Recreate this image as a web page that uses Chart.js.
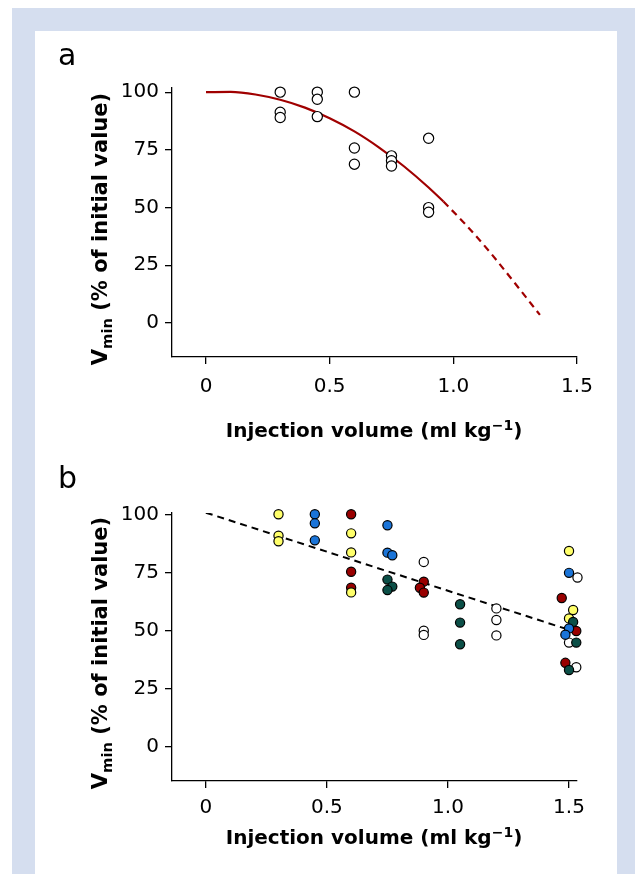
<!DOCTYPE html>
<html>
<head>
<meta charset="utf-8">
<script src="https://cdn.jsdelivr.net/npm/chart.js@4.4.1/dist/chart.umd.min.js"></script>
<style>
  html, body { margin: 0; padding: 0; background: #fff; }
  body { width: 635px; height: 874px; position: relative; overflow: hidden; font-family: 'DejaVu Sans', sans-serif; color: #000; }
  .frame { position: absolute; left: 12px; top: 8px; width: 623px; height: 866px; background: #d5deef; }
  .sheet { position: absolute; left: 35px; top: 31px; width: 582px; height: 843px; background: #fff; }
  canvas { position: absolute; left: 35px; }
  #chartA { top: 31px; }
  #chartB { top: 431px; }
  .panel-label { position: absolute; font-size: 30px; line-height: 30px; }
  .x-title { position: absolute; font-size: 20px; font-weight: bold; line-height: 20px; white-space: nowrap; transform: translateX(-50%); }
  .y-title { position: absolute; font-size: 21px; font-weight: bold; line-height: 21px; white-space: nowrap; transform: translate(-50%, -50%) rotate(-90deg); }
  sub { font-size: 0.7em; vertical-align: 0; position: relative; top: 0.35em; }
  sup { font-size: 0.7em; vertical-align: 0; position: relative; top: -0.5em; }
</style>
</head>
<body>
<div class="frame"></div>
<div class="sheet"></div>
<canvas id="chartA" width="582" height="400"></canvas>
<canvas id="chartB" width="582" height="443"></canvas>

<div class="panel-label" style="left:58px; top:40px;">a</div>
<div class="panel-label" style="left:58px; top:463px;">b</div>
<div class="x-title" style="left:374px; top:420px;">Injection volume (ml kg<sup>−1</sup>)</div>
<div class="x-title" style="left:374px; top:827px;">Injection volume (ml kg<sup>−1</sup>)</div>
<div class="y-title" style="left:101px; top:229px;">V<sub>min</sub> (% of initial value)</div>
<div class="y-title" style="left:101px; top:653px;">V<sub>min</sub> (% of initial value)</div>

<script>
// shared axis ticks
const xTicks = [0, 0.5, 1.0, 1.5];
const xTickLabels = ['0', '0.5', '1.0', '1.5'];
const yTicks = [0, 25, 50, 75, 100];
const yTickLabels = ['0', '25', '50', '75', '100'];

// panel a: individual measurements (open circles)
const doseA = [0.3, 0.3, 0.3, 0.45, 0.45, 0.45, 0.6, 0.6, 0.6, 0.75, 0.75, 0.75, 0.9, 0.9, 0.9];
const vminA = [100, 91.3, 89.0, 100, 96.9, 89.4, 100, 75.8, 68.8, 72.4, 70.3, 68.0, 80, 50, 48];

// panel a: fitted curve, solid over the data range, dashed beyond it
const fitSolidX = [0, 0.1, 0.2, 0.3, 0.4, 0.5, 0.6, 0.7, 0.8, 0.9, 0.96];
const fitSolidY = [100, 100.1, 99.0, 96.7, 93.3, 88.7, 83.0, 76.0, 67.9, 58.7, 52.6];
const fitDashX = [0.96, 1.05, 1.15, 1.25, 1.35];
const fitDashY = [52.6, 42.6, 30.4, 17.1, 3.5];

// panel b: one colour per animal
const blueX = [0.45, 0.45, 0.45, 0.75, 0.75, 0.77, 1.5, 1.5, 1.485];
const blueY = [100, 96.1, 88.8, 95.3, 83.5, 82.4, 74.8, 50.9, 48.2];
const tealX = [0.75, 0.77, 0.75, 1.05, 1.05, 1.05, 1.517, 1.53, 1.5];
const tealY = [71.9, 68.9, 67.4, 61.3, 53.4, 44.1, 53.7, 44.8, 33.0];
const yellowX = [0.3, 0.3, 0.3, 0.6, 0.6, 0.6, 1.5, 1.517, 1.5];
const yellowY = [100, 90.8, 88.4, 91.8, 83.6, 66.4, 84.2, 58.8, 55.2];
const redX = [0.6, 0.6, 0.6, 0.9, 0.884, 0.9, 1.47, 1.53, 1.485];
const redY = [100, 75.3, 68.4, 71.0, 68.4, 66.3, 64.0, 49.8, 36.1];
const whiteX = [0.9, 0.9, 0.9, 1.2, 1.2, 1.2, 1.535, 1.5, 1.53];
const whiteY = [79.5, 49.9, 48.1, 59.5, 54.5, 47.9, 72.8, 44.8, 34.2];

// panel b: regression line
const regX = [0, 1.5];
const regY = [100.7, 50.3];

const pts = (xs, ys) => xs.map((x, i) => ({ x: x, y: ys[i] }));
const tickFont = { family: 'DejaVu Sans', size: 20 };

function axes(o) {
    return {
        x: {
            type: 'linear',
            min: o.xMin,
            max: o.xMax,
            afterBuildTicks: s => { s.ticks = xTicks.map(v => ({ value: v })); },
            afterFit: s => { s.height = o.xHeight; },
            ticks: {
                callback: (v, i) => xTickLabels[i],
                color: '#000',
                font: tickFont,
                padding: o.xPad,
                maxRotation: 0,
                autoSkip: false
            },
            grid: { drawOnChartArea: false, tickLength: 7, color: '#000', lineWidth: 1.3 },
            border: { color: '#000', width: 1.3 }
        },
        y: {
            type: 'linear',
            min: o.yMin,
            max: o.yMax,
            afterBuildTicks: s => { s.ticks = yTicks.map(v => ({ value: v })); },
            afterFit: s => { s.width = 137; },
            ticks: {
                callback: (v, i) => yTickLabels[i],
                color: '#000',
                font: tickFont,
                padding: 6,
                autoSkip: false
            },
            grid: { drawOnChartArea: false, tickLength: 7, color: '#000', lineWidth: 1.3 },
            border: { color: '#000', width: 1.3 }
        }
    };
}

function dots(xs, ys, fill, r) {
    return {
        data: pts(xs, ys),
        showLine: false,
        pointRadius: r,
        pointBackgroundColor: fill,
        pointBorderColor: '#000',
        pointBorderWidth: 1.2,
        clip: false
    };
}

function line(xs, ys, color, dash, width) {
    return {
        data: pts(xs, ys),
        showLine: true,
        pointRadius: 0,
        borderColor: color,
        borderWidth: width,
        borderDash: dash,
        cubicInterpolationMode: 'monotone',
        fill: false
    };
}

const baseOptions = {
    responsive: false,
    animation: false,
    events: [],
    plugins: { legend: { display: false }, tooltip: { enabled: false } }
};

const chartA = new Chart(document.getElementById('chartA').getContext('2d'), {
    type: 'scatter',
    data: {
        datasets: [
            dots(doseA, vminA, '#ffffff', 5.1),
            line(fitSolidX, fitSolidY, '#a00000', [], 2.2),
            line(fitDashX, fitDashY, '#a00000', [7, 5], 2.2)
        ]
    },
    options: Object.assign({}, baseOptions, {
        layout: { padding: { left: 0, top: 57, right: 40, bottom: 0 } },
        scales: axes({ xMin: -0.1375, xMax: 1.5, yMin: -14.73, yMax: 101.8, xHeight: 74, xPad: 11 })
    })
});

const chartB = new Chart(document.getElementById('chartB').getContext('2d'), {
    type: 'scatter',
    data: {
        datasets: [
            dots(blueX, blueY, '#1a74d8', 4.6),
            dots(tealX, tealY, '#0b4f47', 4.6),
            dots(yellowX, yellowY, '#ffff6a', 4.6),
            dots(redX, redY, '#990000', 4.6),
            dots(whiteX, whiteY, '#ffffff', 4.6),
            line(regX, regY, '#000000', [7, 5], 2)
        ]
    },
    options: Object.assign({}, baseOptions, {
        layout: { padding: { left: 0, top: 82, right: 40, bottom: 0 } },
        scales: axes({ xMin: -0.14, xMax: 1.533, yMin: -14.76, yMax: 100.56, xHeight: 93, xPad: 8 })
    })
});
</script>
</body>
</html>
